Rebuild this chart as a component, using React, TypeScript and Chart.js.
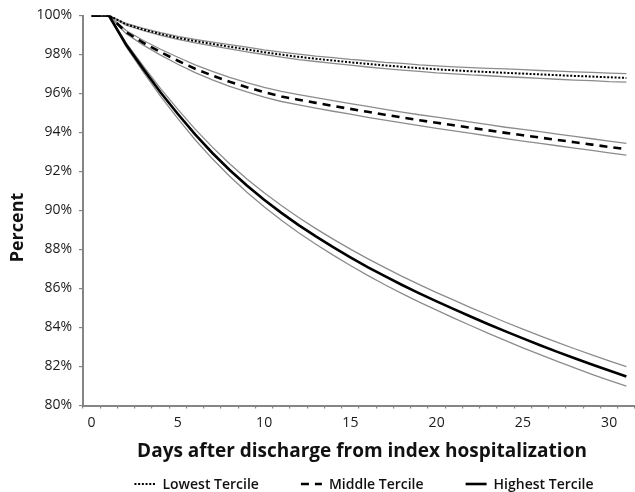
import React, { useEffect, useRef } from 'react';
import { Chart, registerables } from 'chart.js';

Chart.register(...registerables);

// ---- Data ----
const days = [0, 1, 2, 3, 4, 5, 6, 7, 8, 9, 10, 11, 12, 13, 14, 15, 16, 17, 18, 19, 20, 21, 22, 23, 24, 25, 26, 27, 28, 29, 30, 31];

const seriesNames = ['Lowest Tercile', 'Middle Tercile', 'Highest Tercile'];

const lowest = [100, 100, 99.55, 99.28, 99.05, 98.85, 98.69, 98.54, 98.4, 98.26, 98.12, 97.99, 97.88, 97.78, 97.69, 97.6, 97.52, 97.44, 97.37, 97.3, 97.24, 97.19, 97.14, 97.1, 97.06, 97.02, 96.98, 96.94, 96.9, 96.87, 96.83, 96.8];
const lowestUpper = [100, 100, 99.59, 99.34, 99.12, 98.93, 98.78, 98.64, 98.51, 98.38, 98.24, 98.12, 98.02, 97.92, 97.84, 97.75, 97.68, 97.6, 97.54, 97.47, 97.42, 97.37, 97.33, 97.29, 97.26, 97.22, 97.18, 97.15, 97.11, 97.08, 97.05, 97.02];
const lowestLower = [100, 100, 99.51, 99.22, 98.98, 98.77, 98.6, 98.44, 98.29, 98.14, 98.0, 97.86, 97.74, 97.64, 97.54, 97.45, 97.36, 97.28, 97.2, 97.13, 97.06, 97.01, 96.95, 96.91, 96.86, 96.82, 96.78, 96.73, 96.69, 96.66, 96.61, 96.58];

const middle = [100, 100, 99.15, 98.6, 98.12, 97.68, 97.27, 96.92, 96.6, 96.32, 96.07, 95.85, 95.68, 95.52, 95.36, 95.21, 95.06, 94.91, 94.77, 94.63, 94.5, 94.37, 94.24, 94.11, 93.98, 93.86, 93.74, 93.62, 93.5, 93.38, 93.26, 93.14];
const middleUpper = [100, 100, 99.23, 98.72, 98.27, 97.86, 97.47, 97.14, 96.83, 96.56, 96.32, 96.11, 95.94, 95.79, 95.63, 95.48, 95.34, 95.19, 95.05, 94.91, 94.79, 94.66, 94.53, 94.4, 94.27, 94.16, 94.04, 93.92, 93.8, 93.68, 93.56, 93.44];
const middleLower = [100, 100, 99.07, 98.48, 97.97, 97.5, 97.07, 96.7, 96.37, 96.08, 95.82, 95.59, 95.42, 95.25, 95.09, 94.94, 94.78, 94.63, 94.49, 94.35, 94.21, 94.08, 93.95, 93.82, 93.69, 93.56, 93.44, 93.32, 93.2, 93.08, 92.96, 92.84];

const highest = [100, 100, 98.5, 97.25, 96.05, 94.95, 93.9, 92.95, 92.08, 91.28, 90.55, 89.88, 89.25, 88.67, 88.12, 87.6, 87.1, 86.63, 86.18, 85.75, 85.34, 84.94, 84.55, 84.17, 83.8, 83.44, 83.09, 82.75, 82.42, 82.1, 81.79, 81.49];
const highestUpper = [100, 100, 98.6, 97.4, 96.25, 95.19, 94.17, 93.25, 92.4, 91.62, 90.91, 90.26, 89.64, 89.07, 88.53, 88.02, 87.53, 87.07, 86.62, 86.2, 85.79, 85.4, 85.01, 84.64, 84.27, 83.92, 83.57, 83.24, 82.91, 82.6, 82.29, 81.99];
const highestLower = [100, 100, 98.4, 97.1, 95.85, 94.71, 93.63, 92.65, 91.76, 90.94, 90.19, 89.5, 88.86, 88.27, 87.71, 87.18, 86.67, 86.19, 85.74, 85.3, 84.89, 84.48, 84.09, 83.7, 83.33, 82.96, 82.61, 82.26, 81.93, 81.6, 81.29, 80.99];

const xLabelEvery = 5;
const yMin = 80;
const yMax = 100;
const yStep = 2;
const xTitle = 'Days after discharge from index hospitalization';
const yTitle = 'Percent';

// ---- Styles ----
const FONT = '"Open Sans", "DejaVu Sans", sans-serif';
const centerStyles = [
  { width: 2, dash: [2, 1.7] },
  { width: 2.6, dash: [8, 6] },
  { width: 2.6, dash: [] as number[] },
];
const ciColor = '#8c8c8c';
const axisColor = '#858585';

const titlesLegendPlugin = {
  id: 'titlesLegend',
  afterDraw(chart: any) {
    const { ctx, chartArea } = chart;
    const cx = (chartArea.left + chartArea.right) / 2;
    ctx.save();
    ctx.fillStyle = '#111';
    // x-axis title
    ctx.font = `bold 19px ${FONT}`;
    ctx.textAlign = 'center';
    ctx.textBaseline = 'alphabetic';
    ctx.fillText(xTitle, cx + 3, chartArea.bottom + 51);
    // y-axis title
    ctx.save();
    ctx.font = `bold 18px ${FONT}`;
    ctx.translate(18, (chartArea.top + chartArea.bottom) / 2 + 17);
    ctx.rotate(-Math.PI / 2);
    ctx.textBaseline = 'middle';
    ctx.fillText(yTitle, 0, 0);
    ctx.restore();
    // legend
    ctx.font = `600 14px ${FONT}`;
    const sampleW = 21;
    const gapText = 7;
    const gapItem = 42;
    const widths = seriesNames.map((n) => ctx.measureText(n).width);
    const total = widths.reduce((a, w) => a + sampleW + gapText + w, 0) + gapItem * (seriesNames.length - 1);
    let x = cx + 5 - total / 2;
    const lineY = chartArea.bottom + 78.5;
    const textY = chartArea.bottom + 83;
    ctx.textAlign = 'left';
    ctx.textBaseline = 'alphabetic';
    seriesNames.forEach((name, i) => {
      const st = centerStyles[i];
      ctx.beginPath();
      ctx.strokeStyle = '#000';
      ctx.lineWidth = st.width;
      ctx.setLineDash(st.dash);
      ctx.moveTo(x, lineY);
      ctx.lineTo(x + sampleW, lineY);
      ctx.stroke();
      ctx.setLineDash([]);
      ctx.fillStyle = '#111';
      ctx.fillText(name, x + sampleW + gapText, textY);
      x += sampleW + gapText + widths[i] + gapItem;
    });
    ctx.restore();
  },
};

export default function App() {
  const canvasRef = useRef<HTMLCanvasElement | null>(null);

  useEffect(() => {
    document.body.style.margin = '0';
    const canvas = canvasRef.current;
    if (!canvas) return;

    const centers = [lowest, middle, highest];
    const uppers = [lowestUpper, middleUpper, highestUpper];
    const lowers = [lowestLower, middleLower, highestLower];

    const datasets: any[] = [];
    centers.forEach((data, i) => {
      datasets.push({
        label: seriesNames[i],
        data,
        borderColor: '#000',
        borderWidth: centerStyles[i].width,
        borderDash: centerStyles[i].dash,
        pointRadius: 0,
        tension: 0,
        fill: false,
      });
    });
    [...uppers, ...lowers].forEach((data) => {
      datasets.push({
        label: '',
        data,
        borderColor: ciColor,
        borderWidth: 1.3,
        pointRadius: 0,
        tension: 0,
        fill: false,
      });
    });

    const chart = new Chart(canvas, {
      type: 'line',
      data: { labels: days.map(String), datasets },
      options: {
        animation: false,
        responsive: false,
        devicePixelRatio: 1,
        layout: { padding: { top: 15.5, right: 0, bottom: 0, left: 0 } },
        plugins: {
          legend: { display: false },
          tooltip: { enabled: false },
        },
        scales: {
          x: {
            type: 'category',
            offset: true,
            afterFit: (scale: any) => {
              scale.height = 86.5;
            },
            grid: {
              offset: true,
              drawOnChartArea: false,
              color: axisColor,
              lineWidth: 1.2,
              tickLength: 3,
            },
            border: { color: axisColor, width: 2 },
            ticks: {
              autoSkip: false,
              maxRotation: 0,
              padding: 6,
              color: '#1a1a1a',
              font: { family: FONT, size: 14 },
              callback: (_v: any, index: number) => (days[index] % xLabelEvery === 0 ? String(days[index]) : ''),
            },
          },
          y: {
            min: yMin,
            max: yMax,
            afterFit: (scale: any) => {
              scale.width = 83;
            },
            grid: {
              drawOnChartArea: false,
              color: axisColor,
              lineWidth: 1.2,
              tickLength: 4,
            },
            border: { color: axisColor, width: 2 },
            ticks: {
              stepSize: yStep,
              padding: 7,
              color: '#1a1a1a',
              font: { family: FONT, size: 14 },
              callback: (v: any) => `${v}%`,
            },
          },
        },
      },
      plugins: [titlesLegendPlugin],
    });

    return () => chart.destroy();
  }, []);

  return (
    <div style={{ position: 'absolute', left: 0, top: 0, width: 635, height: 492, background: '#fff' }}>
      <canvas ref={canvasRef} width={635} height={492} />
    </div>
  );
}
